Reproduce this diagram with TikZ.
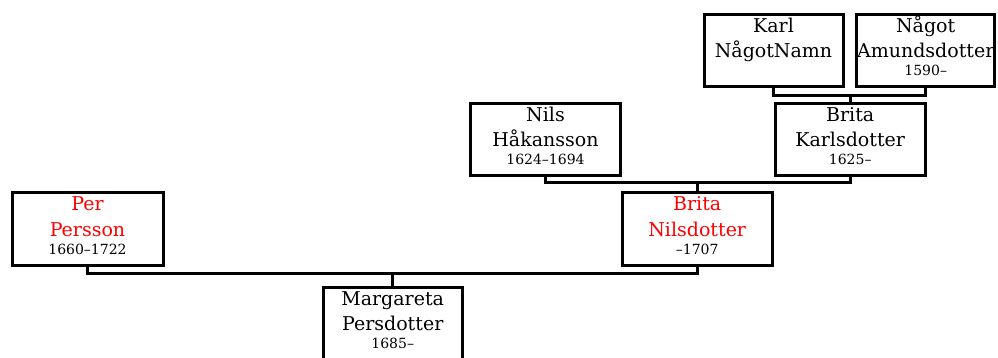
\documentclass[tikz,border=0pt]{standalone}
\usepackage{fontspec}
\setmainfont{DejaVu Serif}
\newcommand\personbox[8]{%
  \node[pbox, minimum width=#4pt] (#1) at (#2,#3) {};
  \node[nm, text=#8] (#1-a) at ([yshift=-18pt]#1.north) {#5};
  \node[nm, text=#8] (#1-b) at ([yshift=-43pt]#1.north) {#6};
  \node[dt] (#1-c) at ([yshift=-61pt]#1.north) {#7};
}
\begin{document}
\begin{tikzpicture}[x=1pt,y=-1pt,
  pbox/.style={draw=black, line width=3pt, minimum height=72pt, inner sep=0pt, outer sep=0pt},
  nm/.style={font=\fontsize{19}{22}\selectfont, anchor=base, inner sep=0pt},
  dt/.style={font=\fontsize{14}{16}\selectfont, anchor=base, inner sep=0pt, text=black},
  conn/.style={draw=black, line width=3pt}]
\useasboundingbox (0,0) rectangle (998,358);
\personbox{karl}{773.5}{51}{139}{Karl}{NågotNamn}{}{black}
\personbox{nagot}{925.7}{51}{137.5}{Något}{Amundsdotter}{1590–}{black}
\personbox{nils}{545.5}{139.8}{150.5}{Nils}{Håkansson}{1624–1694}{black}
\personbox{britak}{850.2}{139.8}{150}{Brita}{Karlsdotter}{1625–}{black}
\personbox{britan}{697.2}{229}{150}{Brita}{Nilsdotter}{–1707}{red}
\personbox{per}{87.5}{229}{151}{Per}{Persson}{1660–1722}{red}
\personbox{marg}{392.7}{323.7}{139}{Margareta}{Persdotter}{1685–}{black}
\coordinate (j1) at (850.2,96);
\coordinate (j2) at (697.2,183);
\coordinate (j3) at (392.7,273);
\draw[conn] (karl.south) |- (j1) -| (nagot.south);
\draw[conn] (j1) -- (britak.north);
\draw[conn] (nils.south) |- (j2) -| (britak.south);
\draw[conn] (j2) -- (britan.north);
\draw[conn] (per.south) |- (j3) -| (britan.south);
\draw[conn] (j3) -- (marg.north);
\end{tikzpicture}
\end{document}
